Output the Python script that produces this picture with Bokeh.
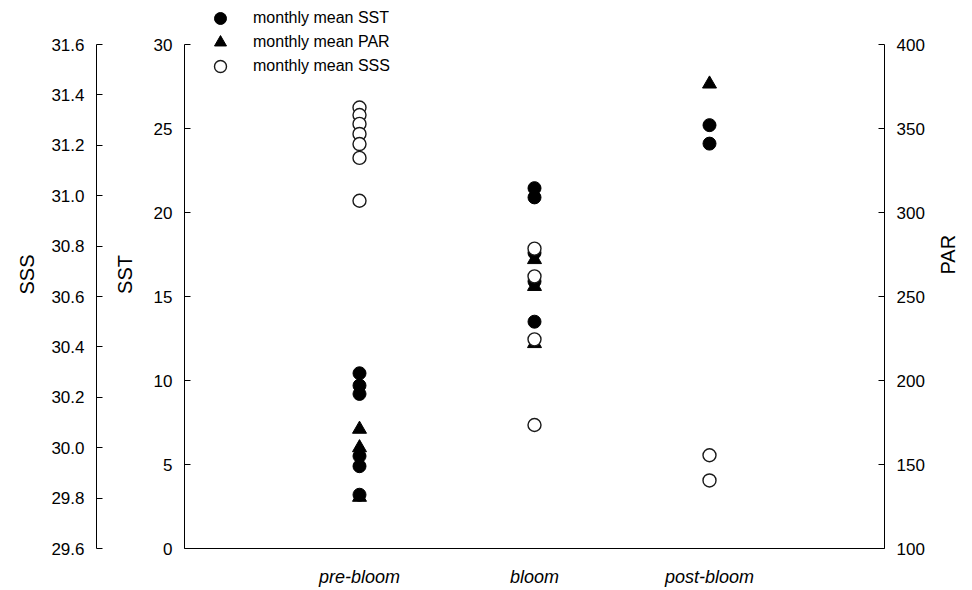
import math
from bokeh.plotting import figure
from bokeh.models import (Range1d, FactorRange, LinearAxis, FixedTicker, Legend,
                          LegendItem, PrintfTickFormatter, ColumnDataSource, Title)
from bokeh.embed import file_html
from bokeh.resources import INLINE

# Bloom stages on the x axis
stages = ["pre-bloom", "bloom", "post-bloom"]

# Monthly mean sea surface temperature (SST, left inner axis)
sst_stage = ["pre-bloom"] * 6 + ["bloom"] * 5 + ["post-bloom"] * 2
sst_values = [10.43, 9.7, 9.2, 5.5, 4.9, 3.2,
              21.45, 20.9, 17.6, 15.9, 13.5,
              25.2, 24.1]

# Monthly mean photosynthetically active radiation (PAR, right axis)
par_stage = ["pre-bloom"] * 3 + ["bloom"] * 3 + ["post-bloom"]
par_values = [171, 160, 130.5,
              272, 256, 222,
              376.5]

# Monthly mean sea surface salinity (SSS, left outer axis)
sss_stage = ["pre-bloom"] * 7 + ["bloom"] * 4 + ["post-bloom"] * 2
sss_values = [31.35, 31.32, 31.285, 31.245, 31.205, 31.15, 30.98,
              30.79, 30.68, 30.43, 30.09,
              29.97, 29.87]

sst_ticks = [0, 5, 10, 15, 20, 25, 30]
sss_ticks = [29.6, 29.8, 30.0, 30.2, 30.4, 30.6, 30.8, 31.0, 31.2, 31.4, 31.6]
par_ticks = [100, 150, 200, 250, 300, 350, 400]

legend_labels = ["monthly mean SST", "monthly mean PAR", "monthly mean SSS"]

FONT = "Liberation Sans"
TICK_SIZE = "17px"
LABEL_SIZE = "20px"

# The data frame runs to the top of the canvas so the legend can sit above
# the axis tops; the visible axes stop at their last tick via `bounds`.
PLOT_H = 548          # frame height in px
AXIS_H = 504          # px spanned by the visible axis lines
stretch = PLOT_H / AXIS_H


def stretched(lo, hi):
    return Range1d(lo, lo + (hi - lo) * stretch)


p = figure(width=972, height=590,
           x_range=FactorRange(factors=stages, range_padding=0.5,
                               range_padding_units="absolute"),
           y_range=stretched(sst_ticks[0], sst_ticks[-1]),
           output_backend="svg", toolbar_location=None,
           min_border_left=184, min_border_right=88,
           min_border_top=0, min_border_bottom=42)
p.extra_y_ranges = {"sss": stretched(sss_ticks[0], sss_ticks[-1]),
                    "par": stretched(par_ticks[0], par_ticks[-1])}
p.outline_line_color = None
p.xgrid.grid_line_color = None
p.ygrid.grid_line_color = None
p.background_fill_color = "white"
p.border_fill_color = "white"


def style_axis(ax, label_standoff, title_standoff):
    ax.axis_line_color = "black"
    ax.axis_line_width = 1
    ax.major_tick_line_color = "black"
    ax.major_tick_in = 6
    ax.major_tick_out = 0
    ax.minor_tick_line_color = None
    ax.major_label_text_font = FONT
    ax.major_label_text_font_size = TICK_SIZE
    ax.major_label_text_color = "black"
    ax.major_label_standoff = label_standoff
    ax.axis_label_text_font = FONT
    ax.axis_label_text_font_size = LABEL_SIZE
    ax.axis_label_text_font_style = "normal"
    ax.axis_label_text_color = "black"
    ax.axis_label_standoff = title_standoff


# SST axis (next to the frame); its title is a separate panel item
sst_axis = p.yaxis[0]
sst_axis.ticker = FixedTicker(ticks=sst_ticks)
sst_axis.bounds = (sst_ticks[0], sst_ticks[-1])
style_axis(sst_axis, 12, 0)

sst_title = Title(text="SST", align="center", text_font=FONT,
                  text_font_size=LABEL_SIZE, text_font_style="normal",
                  text_color="black", standoff=24, padding=3)
p.add_layout(sst_title, "left")

# SSS axis (outer left)
sss_axis = LinearAxis(y_range_name="sss", axis_label="SSS",
                      ticker=FixedTicker(ticks=sss_ticks),
                      formatter=PrintfTickFormatter(format="%.1f"),
                      bounds=(sss_ticks[0], sss_ticks[-1]))
style_axis(sss_axis, 12, 10)
p.add_layout(sss_axis, "left")

# PAR axis (right), label reading bottom-to-top like the left ones
par_axis = LinearAxis(y_range_name="par", axis_label="PAR",
                      ticker=FixedTicker(ticks=par_ticks),
                      bounds=(par_ticks[0], par_ticks[-1]))
style_axis(par_axis, 12, 20)
if "axis_label_orientation" in par_axis.properties():
    par_axis.axis_label_orientation = math.pi / 2
p.add_layout(par_axis, "right")

# Stage axis
xa = p.xaxis[0]
style_axis(xa, 18, 0)
xa.major_tick_in = 0
xa.major_label_text_font_style = "italic"
xa.major_label_text_font_size = "18px"

sst_src = ColumnDataSource(dict(x=sst_stage, y=sst_values))
par_src = ColumnDataSource(dict(x=par_stage, y=par_values))
sss_src = ColumnDataSource(dict(x=sss_stage, y=sss_values))

r_sst = p.scatter("x", "y", source=sst_src, marker="circle", size=13,
                  fill_color="black", line_color="black", line_width=1)
r_par = p.scatter("x", "y", source=par_src, marker="triangle", size=14,
                  fill_color="black", line_color="black", line_width=1,
                  y_range_name="par")
r_sss = p.scatter("x", "y", source=sss_src, marker="circle", size=13,
                  fill_color="white", line_color="#1a1a1a", line_width=1.4,
                  y_range_name="sss")

# One single-row legend per series, stacked 24 px apart above the frame top
ROW_H = 30
ROW_PITCH = 24
FIRST_ROW_CENTER = 18   # px from the top of the canvas
for i, (label, rend) in enumerate(zip(legend_labels, [r_sst, r_par, r_sss])):
    row_center = FIRST_ROW_CENTER + i * ROW_PITCH
    lg = Legend(items=[LegendItem(label=label, renderers=[rend])],
                location=(21, PLOT_H - row_center - ROW_H / 2))
    lg.glyph_width = ROW_H
    lg.glyph_height = ROW_H
    lg.label_height = ROW_H
    lg.padding = 0
    lg.margin = 0
    lg.label_standoff = 18
    lg.label_text_font = FONT
    lg.label_text_font_size = "16px"
    lg.label_text_color = "black"
    lg.border_line_color = None
    lg.background_fill_alpha = 0
    p.add_layout(lg, "center")

open("out.html", "w").write(file_html(p, INLINE))
